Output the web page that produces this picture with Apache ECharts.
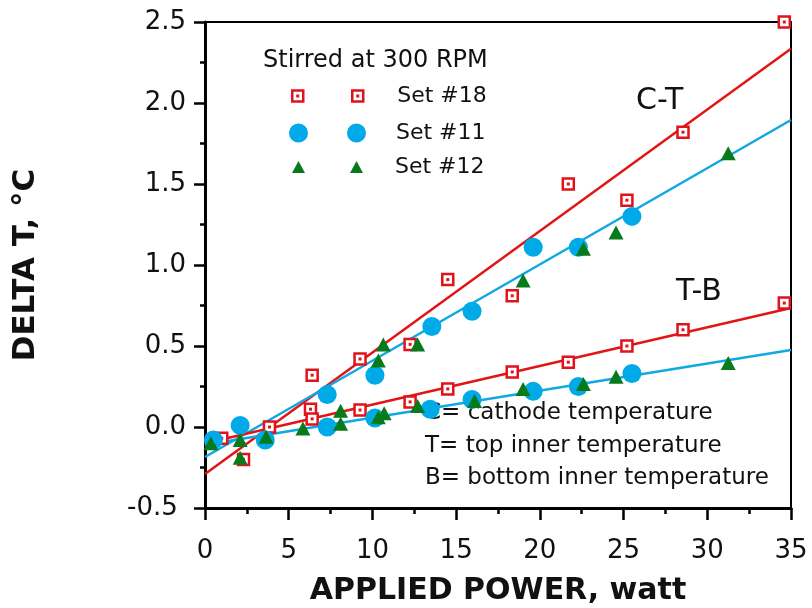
<!DOCTYPE html>
<html>
<head>
<meta charset="utf-8">
<script src="https://cdn.jsdelivr.net/npm/echarts@6/dist/echarts.min.js"></script>
<style>html,body{margin:0;padding:0;background:#fff}#c{width:812px;height:608px}</style>
</head>
<body>
<div id="c"></div>
<script>
// ---- data ----
const xTicks = [0, 5, 10, 15, 20, 25, 30, 35];
const yTicks = [-0.5, 0.0, 0.5, 1.0, 1.5, 2.0, 2.5];

// Set #18 : [power W, delta T]
const set18 = [
  [1.0, -0.07], [2.3, -0.20], [3.85, 0.0], [6.4, 0.32], [6.3, 0.11], [6.4, 0.05],
  [9.26, 0.42], [9.26, 0.105], [12.25, 0.51], [12.25, 0.155], [14.5, 0.91], [14.5, 0.235],
  [18.35, 0.81], [18.35, 0.34], [21.7, 1.50], [21.7, 0.40], [25.2, 1.40], [25.2, 0.50],
  [28.55, 1.82], [28.55, 0.60], [34.6, 2.50], [34.6, 0.765]
];
// Set #11
const set11 = [
  [0.5, -0.08], [2.1, 0.01], [3.6, -0.08], [7.3, 0.20], [7.3, 0.0], [10.15, 0.32], [10.15, 0.055],
  [13.55, 0.62], [13.45, 0.11], [15.95, 0.715], [15.95, 0.17], [19.6, 1.11], [19.6, 0.22],
  [22.3, 1.11], [22.3, 0.25], [25.5, 1.30], [25.5, 0.33]
];
// Set #12
const set12 = [
  [0.35, -0.10], [2.1, -0.08], [2.1, -0.19], [3.65, -0.06], [5.85, -0.01], [8.1, 0.10], [8.1, 0.02],
  [10.35, 0.41], [10.35, 0.06], [10.65, 0.51], [10.7, 0.085], [12.7, 0.51], [12.7, 0.13],
  [16.1, 0.16], [19.0, 0.905], [19.0, 0.235], [22.6, 1.10], [22.6, 0.265], [24.55, 1.20], [24.55, 0.31],
  [31.25, 1.69], [31.25, 0.395]
];
// fitted lines (end points)
const fitRedCT  = [[0, -0.29], [35, 2.335]];
const fitBlueCT = [[0, -0.185], [35, 1.895]];
const fitRedTB  = [[0, -0.10], [35, 0.735]];
const fitBlueTB = [[0, -0.11], [35, 0.475]];

const legendTitle = 'Stirred at 300 RPM';
const notes = ['C= cathode temperature', 'T= top inner temperature', 'B= bottom inner temperature'];

// ---- styles ----
const RED = '#e0121a', BLUE = '#00aae9', GREEN = '#077a1c', LRED = '#e31414', LBLUE = '#10a8e3';
const FONT = 'DejaVu Sans';

const chart = echarts.init(document.getElementById('c'), null, {renderer: 'canvas'});

const sqIcon = 'path://M0,0L11,0L11,11L0,11Z M5.25,5.25L5.75,5.25L5.75,5.75L5.25,5.75Z M60,0L71,0L71,11L60,11Z M65.25,5.25L65.75,5.25L65.75,5.75L65.25,5.75Z';
const ciIcon = 'path://M0,9.5a9.5,9.5 0 1,0 19,0a9.5,9.5 0 1,0 -19,0Z M58,9.5a9.5,9.5 0 1,0 19,0a9.5,9.5 0 1,0 -19,0Z';
const trIcon = 'path://M6.5,0L13,12L0,12Z M64.5,0L71,12L58,12Z';

const legendText = {fontFamily: FONT, fontSize: 22, color: '#111'};

function lineSeries(name, data, color) {
  return {name, type: 'line', data, symbol: 'none', silent: true, z: 1,
    lineStyle: {color, width: 2.5}, animation: false};
}

const option = {
  animation: false,
  backgroundColor: '#fff',
  grid: {left: 205, right: 21, top: 22, bottom: 100, containLabel: false, outerBoundsMode: 'none',
         show: true, borderColor: '#000', borderWidth: 2},
  xAxis: {
    type: 'value', min: xTicks[0], max: xTicks[xTicks.length - 1], interval: 5,
    axisLine: {show: true, onZero: false, lineStyle: {color: '#000', width: 3}},
    axisTick: {show: true, length: 12, lineStyle: {color: '#000', width: 2.5}},
    minorTick: {show: true, splitNumber: 2, length: 6, lineStyle: {color: '#000', width: 2.5}},
    splitLine: {show: false},
    axisLabel: {margin: 30, fontFamily: FONT, fontSize: 26, color: '#111'},
    name: 'APPLIED POWER, watt', nameLocation: 'middle', nameGap: 68,
    nameTextStyle: {fontFamily: FONT, fontSize: 30, fontWeight: 'bold', color: '#111'}
  },
  yAxis: {
    type: 'value', min: yTicks[0], max: yTicks[yTicks.length - 1], interval: 0.5,
    axisLine: {show: true, onZero: false, lineStyle: {color: '#000', width: 3}},
    axisTick: {show: true, length: 11, lineStyle: {color: '#000', width: 2.5}},
    minorTick: {show: true, splitNumber: 2, length: 5, lineStyle: {color: '#000', width: 2.5}},
    splitLine: {show: false},
    axisLabel: {margin: 19, fontFamily: FONT, fontSize: 26, color: '#111',
      formatter: v => (v < 0 ? v.toFixed(1) + ' ' : v.toFixed(1))},
    name: 'DELTA T, \u00b0C', nameLocation: 'middle', nameGap: 164, nameRotate: 90,
    nameTextStyle: {fontFamily: FONT, fontSize: 31, fontWeight: 'bold', color: '#111'}
  },
  legend: [
    {data: [{name: 'Set #18', icon: sqIcon, itemStyle: {color: '#fff', borderColor: RED, borderWidth: 2.5}}],
     left: 291, top: 85, padding: 0, itemWidth: 71, itemHeight: 11, selectedMode: false,
     textStyle: Object.assign({padding: [0, 0, 0, 29]}, legendText)},
    {data: [{name: 'Set #11', icon: ciIcon, itemStyle: {color: BLUE, borderWidth: 0}}],
     left: 289, top: 122, padding: 0, itemWidth: 77, itemHeight: 19, selectedMode: false,
     textStyle: Object.assign({padding: [0, 0, 0, 25]}, legendText)},
    {data: [{name: 'Set #12', icon: trIcon, itemStyle: {color: GREEN, borderWidth: 0}}],
     left: 292, top: 156, padding: 0, itemWidth: 71, itemHeight: 12, selectedMode: false,
     textStyle: Object.assign({padding: [0, 0, 0, 27]}, legendText)}
  ],
  graphic: [
    {type: 'text', x: 263, y: 61, style: {text: legendTitle, fontFamily: FONT, fontSize: 24, fill: '#111', verticalAlign: 'middle'}},
    {type: 'text', x: 636, y: 101, style: {text: 'C-T', fontFamily: FONT, fontSize: 30, fill: '#111', verticalAlign: 'middle'}},
    {type: 'text', x: 676, y: 292, style: {text: 'T-B', fontFamily: FONT, fontSize: 30, fill: '#111', verticalAlign: 'middle'}},
    {type: 'text', x: 425, y: 413, style: {text: notes[0], fontFamily: FONT, fontSize: 23, fill: '#111', verticalAlign: 'middle'}},
    {type: 'text', x: 425, y: 446, style: {text: notes[1], fontFamily: FONT, fontSize: 23, fill: '#111', verticalAlign: 'middle'}},
    {type: 'text', x: 425, y: 478, style: {text: notes[2], fontFamily: FONT, fontSize: 23, fill: '#111', verticalAlign: 'middle'}}
  ],
  series: [
    lineSeries('fit18CT', fitRedCT, LRED),
    lineSeries('fit11CT', fitBlueCT, LBLUE),
    lineSeries('fit18TB', fitRedTB, LRED),
    lineSeries('fit11TB', fitBlueTB, LBLUE),
    {name: 'Set #18', type: 'scatter', data: set18, symbol: 'rect', symbolSize: 11, z: 3,
     itemStyle: {color: '#fff', borderColor: RED, borderWidth: 2.5, opacity: 1}},
    {name: 'Set #18 dot', type: 'scatter', data: set18, symbol: 'rect', symbolSize: 3, z: 3,
     itemStyle: {color: RED, opacity: 1}},
    {name: 'Set #11', type: 'scatter', data: set11, symbol: 'circle', symbolSize: 19, z: 4,
     itemStyle: {color: BLUE, opacity: 1}},
    {name: 'Set #12', type: 'scatter', data: set12, symbol: 'triangle', symbolSize: [15, 14], z: 5,
     itemStyle: {color: GREEN, opacity: 1}}
  ]
};
chart.setOption(option);
</script>
</body>
</html>
